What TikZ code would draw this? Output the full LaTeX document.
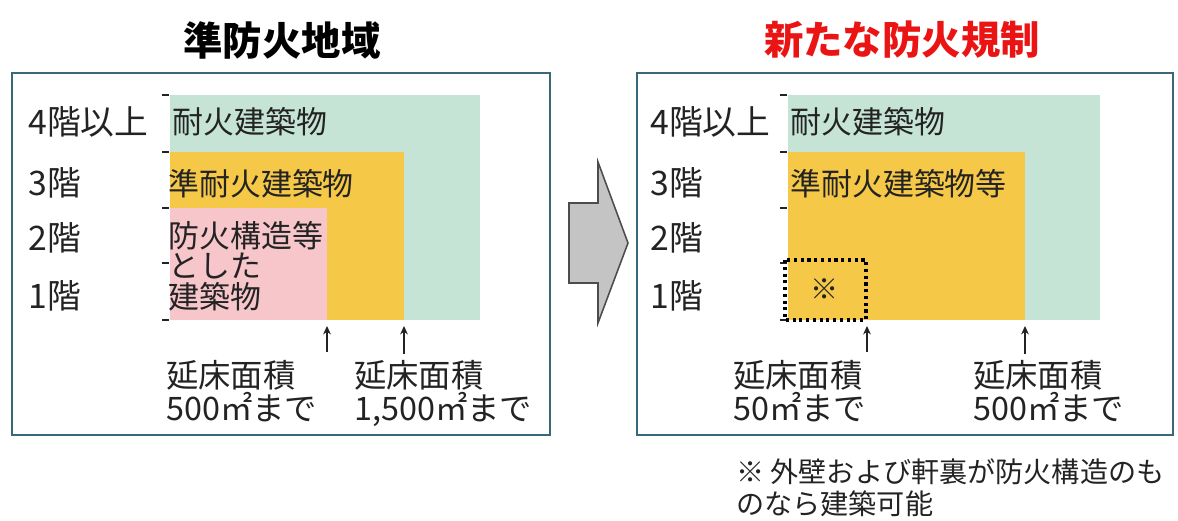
\documentclass[tikz,border=0pt]{standalone}
\usepackage{fontspec}
\setmainfont{Noto Sans CJK JP}
\usetikzlibrary{arrows.meta}
\definecolor{frame}{RGB}{55,105,120}
\definecolor{fgreen}{RGB}{198,228,214}
\definecolor{forange}{RGB}{246,200,72}
\definecolor{fpink}{RGB}{246,198,202}
\definecolor{tred}{RGB}{235,20,20}
\definecolor{agray}{RGB}{196,196,196}
\definecolor{ink}{RGB}{35,35,35}
\begin{document}
\begin{tikzpicture}[x=0.025cm,y=-0.025cm,
  panel/.style={draw=frame, line width=2pt},
  title/.style={inner sep=0, font=\fontsize{28}{28}\selectfont\bfseries},
  floorlbl/.style={anchor=west, inner sep=0, text=ink, font=\fontsize{24}{24}\selectfont},
  inlbl/.style={anchor=west, inner sep=0, text=ink, align=left, font=\fontsize{22}{21.5}\selectfont},
  arealbl/.style={anchor=north west, inner sep=0, text=ink, align=left, font=\fontsize{23}{23.5}\selectfont},
  tickmark/.style={draw=ink, line width=1pt},
  uparrow/.style={draw=ink, line width=1.1pt, -{Stealth[length=6pt,width=5.5pt]}},
  bigarrow/.style={draw=black!70, fill=agray, line width=1.1pt, line join=miter}
]
\useasboundingbox (0,0) rectangle (1178,520);

% titles
\node[title] (t1) at (282,40) {準防火地域};
\node[title, text=tred] (t2) at (902,40) {新たな防火規制};

% ---------- left panel ----------
\draw[panel] (12,73) rectangle (550,435);
\fill[fgreen] (170,95) rectangle (480,320);
\fill[forange] (170,152) rectangle (404,320);
\fill[fpink] (170,208) rectangle (327,320);
\foreach \yy in {95,152,208,263,320} \draw[tickmark] (162,\yy) -- (169,\yy);

\node[floorlbl] (l4) at (28,122) {4階以上};
\node[floorlbl] (l3) at (28,183) {3階};
\node[floorlbl] (l2) at (28,238) {2階};
\node[floorlbl] (l1) at (28,296) {1階};

\node[inlbl] (lfire) at (172,122) {耐火建築物};
\node[inlbl] (lsemi) at (168,184) {準耐火建築物};
\node[inlbl] (lprot) at (168,266) {防火構造等\\とした\\建築物};

\node[arealbl] (la1) at (166,360) {延床面積\\500㎡まで};
\node[arealbl] (la2) at (354,360) {延床面積\\1,500㎡まで};
\coordinate (la1s) at (327,352);
\coordinate (la1e) at (327,326);
\coordinate (la2s) at (404,354);
\coordinate (la2e) at (404,326);
\draw[uparrow] (la1s) -- (la1e);
\draw[uparrow] (la2s) -- (la2e);

% ---------- big arrow ----------
\draw[bigarrow] (569,203) -- (598,203) -- (598,162) -- (628,243) -- (598,323) -- (598,283) -- (569,283) -- cycle;

% ---------- right panel ----------
\draw[panel] (637,73) rectangle (1173,435);
\fill[fgreen] (788,95) rectangle (1100,320);
\fill[forange] (788,152) rectangle (1025,320);
\foreach \yy in {95,152,208,263,320} \draw[tickmark] (780,\yy) -- (787,\yy);
\draw[draw=black, line width=2.2pt, dash pattern=on 2.2pt off 2.6pt] (785,260) rectangle (866,320);
\node[inner sep=0, text=ink, font=\fontsize{20}{20}\selectfont] (mark) at (825,289) {※};

\node[floorlbl] (r4) at (650,122) {4階以上};
\node[floorlbl] (r3) at (650,183) {3階};
\node[floorlbl] (r2) at (650,238) {2階};
\node[floorlbl] (r1) at (650,296) {1階};

\node[inlbl] (rfire) at (790,122) {耐火建築物};
\node[inlbl] (rsemi) at (790,184) {準耐火建築物等};

\node[arealbl] (ra1) at (733,360) {延床面積\\50㎡まで};
\node[arealbl] (ra2) at (973,360) {延床面積\\500㎡まで};
\coordinate (ra1s) at (867,352);
\coordinate (ra1e) at (867,326);
\coordinate (ra2s) at (1025,354);
\coordinate (ra2e) at (1025,326);
\draw[uparrow] (ra1s) -- (ra1e);
\draw[uparrow] (ra2s) -- (ra2e);

% footnote
\node[anchor=north west, inner sep=0, text=ink, align=left, font=\fontsize{20}{23}\selectfont] (note) at (736,458) {※ 外壁および軒裏が防火構造のも\\のなら建築可能};
\end{tikzpicture}
\end{document}
